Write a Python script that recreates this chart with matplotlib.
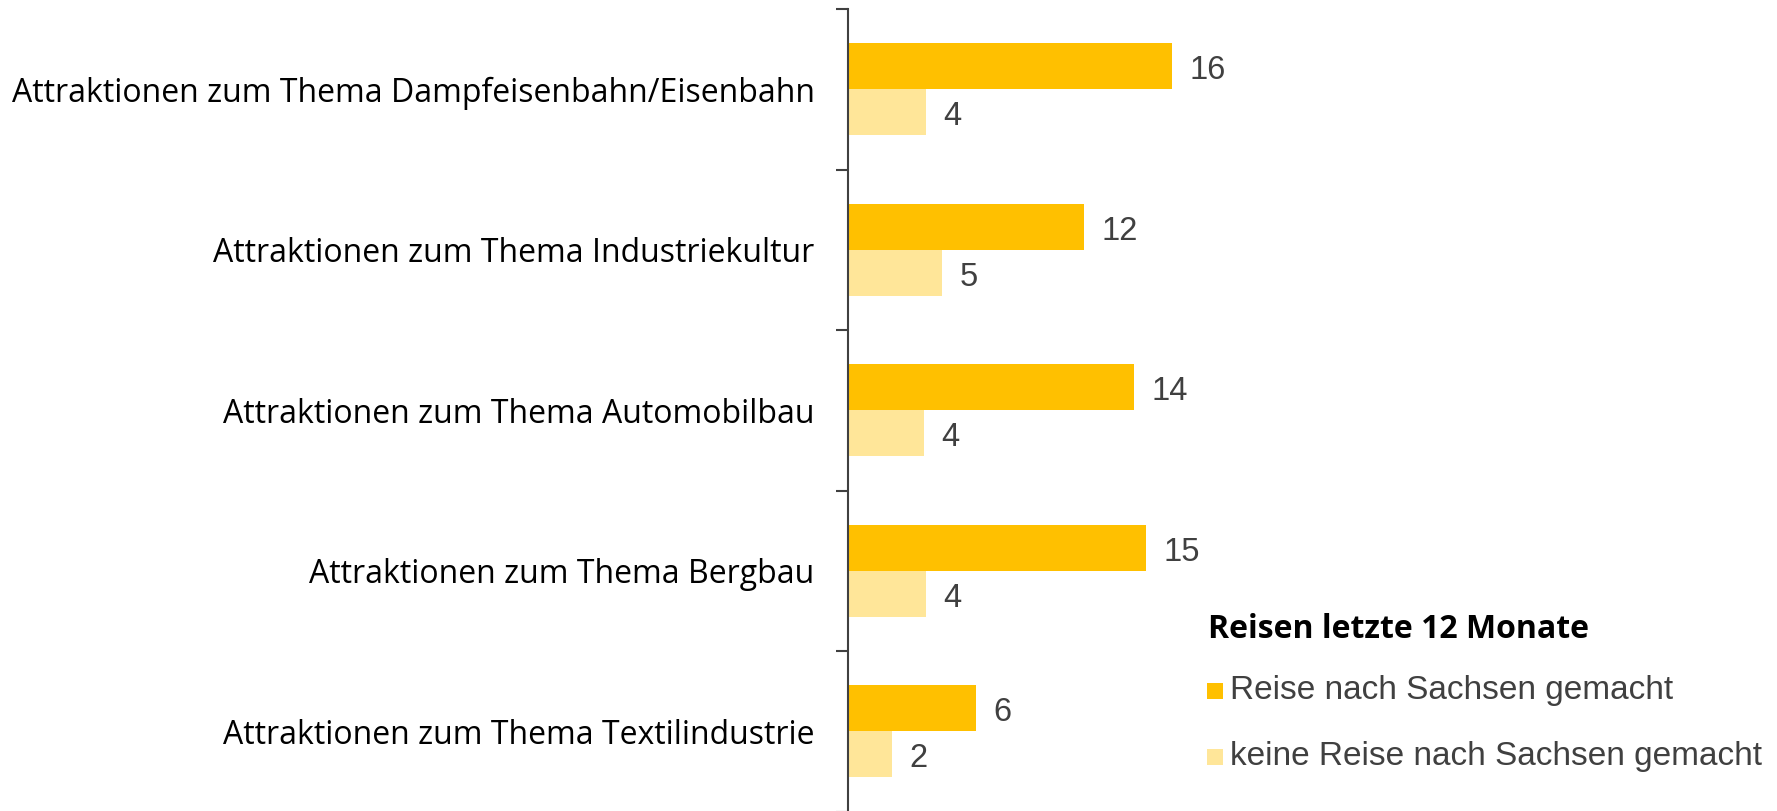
import matplotlib
matplotlib.use("Agg")
import matplotlib.pyplot as plt
from matplotlib.patches import Rectangle

categories = [
    "Attraktionen zum Thema Dampfeisenbahn/Eisenbahn",
    "Attraktionen zum Thema Industriekultur",
    "Attraktionen zum Thema Automobilbau",
    "Attraktionen zum Thema Bergbau",
    "Attraktionen zum Thema Textilindustrie",
]
series_names = ["Reise nach Sachsen gemacht", "keine Reise nach Sachsen gemacht"]
reise = [16.2, 11.8, 14.3, 14.9, 6.4]
keine_reise = [3.9, 4.7, 3.8, 3.9, 2.2]
legend_title = "Reisen letzte 12 Monate"

c_dark = "#FFC000"
c_light = "#FFE699"
axis_col = "#404040"
W, H = 1777, 811

fig = plt.figure(figsize=(W / 100, H / 100), dpi=100)
ax = fig.add_axes([848 / W, -0.5 / H, (W - 848) / W, 802.5 / H])

n = len(categories)
pos = list(range(n))
bh = 0.286
ax.barh([p - bh / 2 for p in pos], reise, height=bh, color=c_dark, zorder=2)
ax.barh([p + bh / 2 for p in pos], keine_reise, height=bh, color=c_light, zorder=2)

for p, v in zip(pos, reise):
    ax.annotate(f"{round(v)}", (v, p - bh / 2), xytext=(12.5, -3.2), textcoords="offset points",
                va="center", ha="left", fontsize=23.5, color=axis_col, family="Liberation Sans")
for p, v in zip(pos, keine_reise):
    ax.annotate(f"{round(v)}", (v, p + bh / 2), xytext=(12.5, -3.2), textcoords="offset points",
                va="center", ha="left", fontsize=23.5, color=axis_col, family="Liberation Sans")

ax.set_xlim(0, (W - 848) / 20.0)
ax.set_ylim(n - 0.5, -0.5)

for s in ["top", "right", "bottom"]:
    ax.spines[s].set_visible(False)
ax.spines["left"].set_color(axis_col)
ax.spines["left"].set_linewidth(1.5)
ax.set_xticks([])

ax.set_yticks([i - 0.5 for i in range(n + 1)])
ax.set_yticklabels([])
ax.tick_params(axis="y", which="major", length=8.6, width=1.5, color=axis_col, direction="out")
ax.set_yticks(pos, minor=True)
ax.set_yticklabels(categories, minor=True, family="Open Sans", fontsize=23, color="#000000")
ax.tick_params(axis="y", which="minor", length=0, pad=24)

# legend
fig.text(1208 / W, 1 - 629.5 / H, legend_title, family="Open Sans", weight="bold",
         fontsize=23, color="#000000", va="center", ha="left")
for yc, col, name in [(690.5, c_dark, series_names[0]), (757, c_light, series_names[1])]:
    fig.patches.append(Rectangle((1207 / W, 1 - (yc + 8) / H), 15.5 / W, 16 / H,
                                 transform=fig.transFigure, facecolor=col, edgecolor="none"))
    fig.text(1230 / W, 1 - yc / H, name, family="Liberation Sans", fontsize=24,
             color=axis_col, va="center", ha="left")

fig.savefig("out.png", dpi=100)
